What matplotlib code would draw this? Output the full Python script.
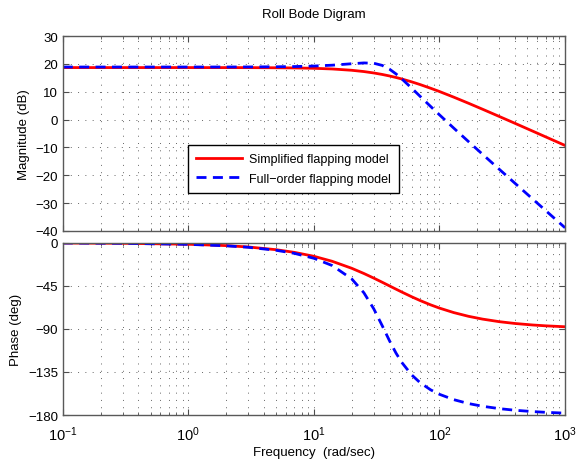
import matplotlib
matplotlib.use("Agg")
import matplotlib.pyplot as plt
from matplotlib.ticker import LogLocator, NullFormatter

plt.rcParams['font.family'] = ['Liberation Sans', 'DejaVu Sans']
plt.rcParams['mathtext.fontset'] = 'custom'
plt.rcParams['mathtext.rm'] = 'Liberation Sans'
plt.rcParams['mathtext.it'] = 'Liberation Sans:italic'

# frequency samples (rad/sec)
freq = [0.1, 0.3, 1, 2, 3, 5, 7, 10, 14, 20, 25, 30, 35, 40, 45, 50, 60, 70,
        85, 100, 130, 170, 220, 300, 400, 550, 700, 1000]

# simplified flapping model
simp_mag = [18.70, 18.70, 18.70, 18.69, 18.68, 18.63, 18.57, 18.44, 18.20,
            17.73, 17.27, 16.76, 16.23, 15.69, 15.15, 14.61, 13.58, 12.61,
            11.28, 10.10, 8.07, 5.90, 3.75, 1.12, -1.34, -4.09, -6.18, -9.27]
simp_phase = [-0.14, -0.43, -1.43, -2.86, -4.29, -7.13, -9.93, -14.04, -19.29,
              -26.57, -32.01, -36.87, -41.19, -45.0, -48.37, -51.34, -56.31,
              -60.26, -64.8, -68.2, -72.9, -76.76, -79.7, -82.41, -84.29,
              -85.84, -86.73, -87.71]

# full-order flapping model
full_mag = [18.90, 18.90, 18.90, 18.91, 18.93, 18.99, 19.07, 19.25, 19.56,
            20.08, 20.37, 20.25, 19.48, 18.13, 16.45, 14.68, 11.33, 8.40,
            4.74, 1.72, -3.06, -7.86, -12.42, -17.87, -22.89, -28.44, -32.64,
            -38.84]
full_phase = [-0.15, -0.46, -1.53, -3.06, -4.61, -7.74, -10.98, -16.12, -23.74,
              -37.65, -52.17, -69.1, -86.64, -102.4, -115.11, -124.87, -138.01,
              -146.13, -153.65, -158.34, -163.94, -167.98, -170.83, -173.33,
              -175.02, -176.39, -177.17, -178.02]

mag_ticks = [-40, -30, -20, -10, 0, 10, 20, 30]
phase_ticks = [-180, -135, -90, -45, 0]

fig = plt.figure(figsize=(5.76, 4.64), dpi=100)
ax1 = fig.add_axes([0.109, 0.500, 0.872, 0.420])
ax2 = fig.add_axes([0.109, 0.1034, 0.872, 0.371])

dash = (0, (3.6, 2.3))
ax1.plot(freq, simp_mag, color='r', lw=2, label='Simplified flapping model')
ax1.plot(freq, full_mag, color='b', lw=2, linestyle=dash,
         label='Full\u2212order flapping model')
ax2.plot(freq, simp_phase, color='r', lw=2)
ax2.plot(freq, full_phase, color='b', lw=2, linestyle=dash)

grid_ls = (0, (1, 6.5))
for ax in (ax1, ax2):
    ax.set_xscale('log')
    ax.set_xlim(0.1, 1000)
    ax.xaxis.set_major_locator(LogLocator(base=10, numticks=10))
    ax.xaxis.set_minor_locator(LogLocator(base=10, subs=range(2, 10), numticks=20))
    ax.xaxis.set_minor_formatter(NullFormatter())
    ax.tick_params(which='both', direction='in', top=True, right=True,
                   color='0.3', labelsize=9.5)
    ax.tick_params(which='major', length=4)
    ax.tick_params(which='minor', length=2)
    ax.grid(True, which='major', axis='both', color='0.4', ls=grid_ls, lw=0.7)
    ax.grid(True, which='minor', axis='x', color='0.4', ls=grid_ls, lw=0.7)
    for s in ax.spines.values():
        s.set_color('0.35')
        s.set_linewidth(1.0)

ax1.set_ylim(-40, 30)
ax1.set_yticks(mag_ticks)
ax1.xaxis.set_major_formatter(NullFormatter())
ax1.set_ylabel('Magnitude (dB)', fontsize=9.5)
ax1.set_title('Roll Bode Digram', fontsize=9.5, pad=14)

ax2.set_ylim(-180, 0)
ax2.set_yticks(phase_ticks)
ax2.tick_params(axis='x', which='major', labelsize=10.5, pad=7)
ax2.set_ylabel('Phase (deg)', fontsize=9.5)
ax2.set_xlabel('Frequency  (rad/sec)', fontsize=9.5, labelpad=2)

leg = ax1.legend(loc='upper left', bbox_to_anchor=(0.249, 0.441), fontsize=9,
                 handlelength=3.7, handletextpad=0.55, fancybox=False,
                 framealpha=1, borderaxespad=0, borderpad=0.65,
                 labelspacing=0.6)
leg.get_frame().set_edgecolor('black')
leg.get_frame().set_linewidth(1.0)

fig.savefig('out.png', dpi=100)
